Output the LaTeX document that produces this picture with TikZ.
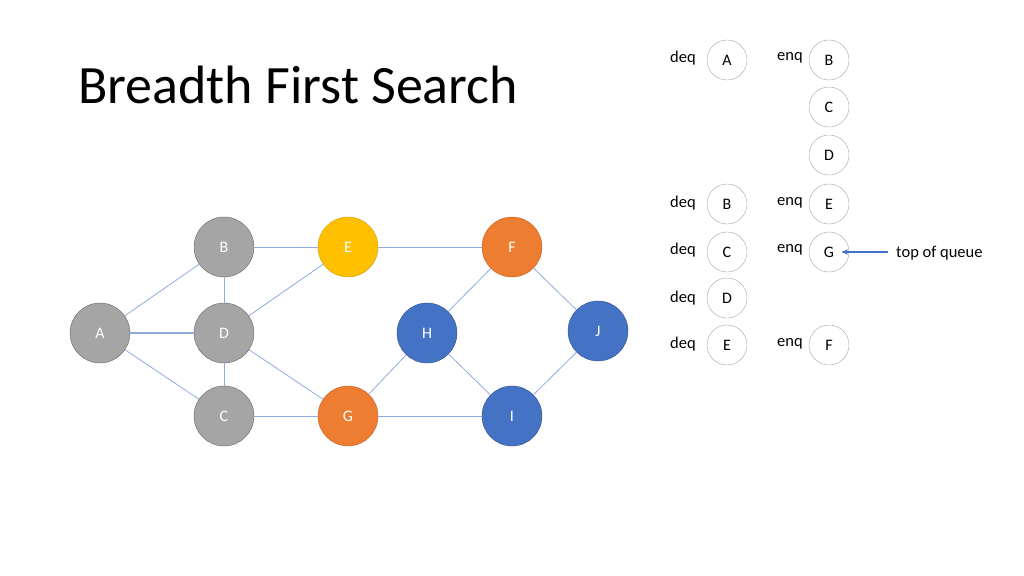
\documentclass[tikz,border=0pt]{standalone}
\usepackage{fontspec}
\setmainfont{Carlito}
\usetikzlibrary{arrows.meta}
\definecolor{edgeblue}{HTML}{8FAADC}
\definecolor{nodegray}{HTML}{A5A5A5}
\definecolor{nodeyellow}{HTML}{FFC000}
\definecolor{nodeorange}{HTML}{ED7D31}
\definecolor{nodeblue}{HTML}{4472C4}
\begin{document}
\begin{tikzpicture}[x=1pt,y=-1pt]
            \tikzstyle{graph node}=[circle,draw,minimum size=60pt,inner sep=0,text=white,font=\fontsize{16}{18}\selectfont];
            \tikzstyle{queue node}=[circle,draw=gray!70,fill=white,minimum size=40pt,inner sep=0,font=\fontsize{16}{18}\selectfont];
            \tikzstyle{op label}=[font=\fontsize{16.5}{18}\selectfont];
            \tikzstyle{edge}=[edgeblue,line width=0.8pt];
            \useasboundingbox (0,0) rectangle (1024,575);
            \node[anchor=west,inner sep=0,font=\fontsize{54}{58}\selectfont] (title) at (78,85) {Breadth First Search};
            % graph
            \node[graph node,fill=nodegray,draw=gray!80!black] (A) at (100,333) {A};
            \node[graph node,fill=nodegray,draw=gray!80!black] (B) at (224,247) {B};
            \node[graph node,fill=nodegray,draw=gray!80!black] (D) at (224,333) {D};
            \node[graph node,fill=nodegray,draw=gray!80!black] (C) at (224,416) {C};
            \node[graph node,fill=nodeyellow,draw=nodeyellow!80!black] (E) at (348,247) {E};
            \node[graph node,fill=nodeorange,draw=nodeorange!80!black] (F) at (512,247) {F};
            \node[graph node,fill=nodeorange,draw=nodeorange!80!black] (G) at (348,416) {G};
            \node[graph node,fill=nodeblue,draw=nodeblue!70!black] (H) at (427,333) {H};
            \node[graph node,fill=nodeblue,draw=nodeblue!70!black] (I) at (512,416) {I};
            \node[graph node,fill=nodeblue,draw=nodeblue!70!black] (J) at (598,331) {J};
            \foreach \a/\b in {A/B,A/C,B/D,D/C,B/E,D/E,D/G,E/F,F/H,F/J,H/I,H/G,G/I,J/I,C/G}
                \draw[edge] (\a) -- (\b);
            \draw[edge,line width=1.3pt] (A) -- (D);
            % queue
            \node[queue node] (qA) at (727,60) {A};
            \node[queue node] (qB) at (829,60) {B};
            \node[queue node] (qC) at (829,107) {C};
            \node[queue node] (qD) at (829,155) {D};
            \node[queue node] (qB2) at (727,204) {B};
            \node[queue node] (qE) at (829,204) {E};
            \node[queue node] (qC2) at (727,252) {C};
            \node[queue node] (qG) at (829,252) {G};
            \node[queue node] (qD2) at (727,298) {D};
            \node[queue node] (qE2) at (727,345) {E};
            \node[queue node] (qF) at (829,345) {F};
            \foreach \y in {58,203,250,298,344} \node[op label] at (683,\y) {deq};
            \foreach \y in {58,203,250,344} \node[op label] at (790,\y) {enq};
            \node[op label,anchor=west,inner sep=0] (top) at (896,253) {top of queue};
            \coordinate (tail) at (888,252);
            \draw[-{Stealth[length=7pt]},nodeblue,line width=1.5pt] (tail) -- ([xshift=-8pt]qG.east);
            \end{tikzpicture}
\end{document}
